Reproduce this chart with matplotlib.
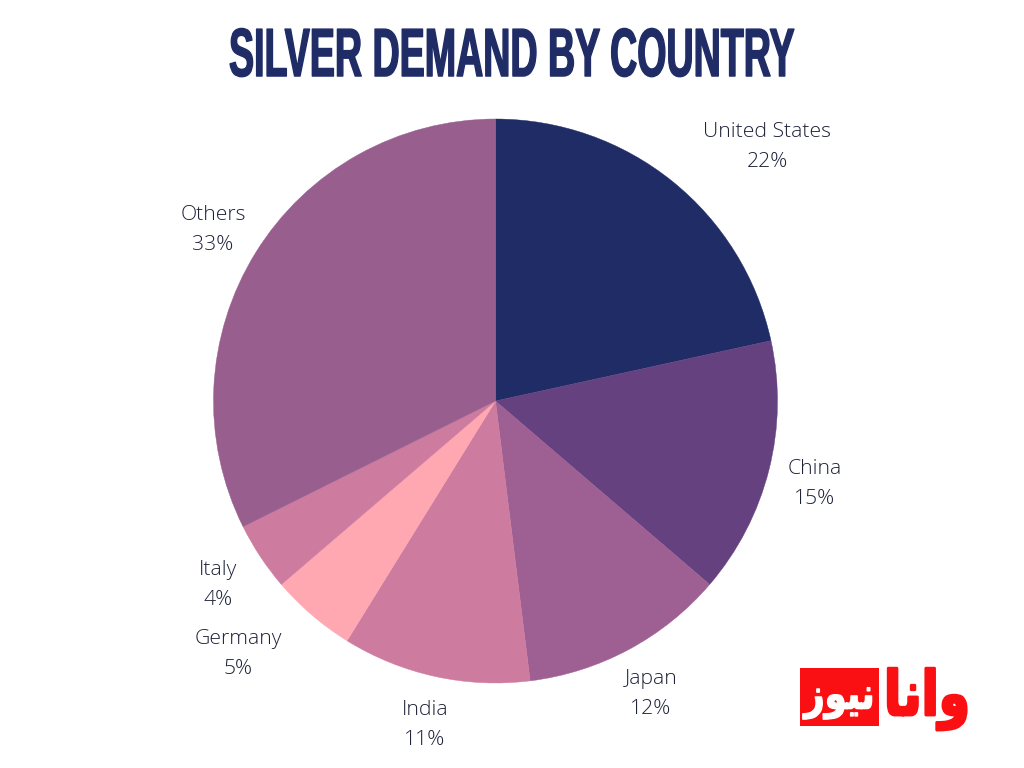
import matplotlib
matplotlib.use('Agg')
import matplotlib.pyplot as plt
from matplotlib.patheffects import AbstractPathEffect
from matplotlib.transforms import Affine2D

labels = ['United States', 'China', 'Japan', 'India', 'Germany', 'Italy', 'Others']
values = [22, 15, 12, 11, 5, 4, 33]
colors = ['#1F2C66', '#65417F', '#9E5F93', '#CE7BA0', '#FFA8B2', '#CE7BA0', '#985E8E']
label_pos = [(767, 147), (815, 484), (651, 694), (425, 725), (238, 654), (218, 585), (213, 230)]


class Squeeze(AbstractPathEffect):
    """Draw text narrower or taller about a pixel point, with a heavier outline."""
    def __init__(self, fx, fy, cx, cy, stroke, color):
        super().__init__()
        self.fx, self.fy, self.cx, self.cy = fx, fy, cx, cy
        self.stroke, self.color = stroke, color

    def draw_path(self, renderer, gc, tpath, affine, rgbFace=None):
        t = Affine2D().translate(-self.cx, -self.cy).scale(self.fx, self.fy).translate(self.cx, self.cy)
        gc0 = renderer.new_gc()
        gc0.copy_properties(gc)
        gc0.set_linewidth(self.stroke)
        gc0.set_foreground(self.color)
        renderer.draw_path(gc0, tpath, affine + t, rgbFace)
        gc0.restore()


W, H = 1024, 768
fig = plt.figure(figsize=(W/100, H/100), dpi=100, facecolor='white')
ax = fig.add_axes([0, 0, 1, 1])
ax.set_xlim(0, W)
ax.set_ylim(H, 0)
ax.axis('off')

pie_ax = fig.add_axes([(495.5-282)/W, 1-(401+282)/H, 564/W, 564/H])
wedges, _ = pie_ax.pie(values, colors=colors, startangle=90, counterclock=False, radius=1,
                       wedgeprops=dict(linewidth=0))
for w, c in zip(wedges, colors):
    w.set_edgecolor(c)
    w.set_linewidth(0.3)
pie_ax.set_xlim(-1, 1)
pie_ax.set_ylim(-1, 1)

for lab, val, (x, y) in zip(labels, values, label_pos):
    ax.text(x, y, f'{lab}\n{val}%', ha='center', va='center', fontsize=15.2,
            family='Open Sans', fontweight='light', color='#1E2238', linespacing=1.62)

title = ax.text(512, 58.5, 'SILVER DEMAND BY COUNTRY', ha='center', va='center',
                fontsize=42, family=['Liberation Sans Narrow', 'Liberation Sans'],
                fontweight='bold', color='#1F2C66')
fig.canvas.draw()
tw = title.get_window_extent().width
title.set_path_effects([Squeeze(566 / tw, 1.17, 512, H - 58.5, 1.0, '#1F2C66')])

# logo
logo_red = '#FA0F12'
ax.add_patch(plt.Rectangle((800, 668), 79, 58, facecolor=logo_red, edgecolor='none'))
logo_white = '\uFEAF\uFEEE\uFEF4\uFEE7'
logo_red_text = '\uFE8E\uFEE7\uFE8D\uFEED'
wt = ax.text(839.5, 699, logo_white, ha='center', va='center', fontsize=26,
             family='DejaVu Sans', fontweight='bold', color='white')
wt.set_path_effects([Squeeze(0.98, 1.2, 839.5, H - 699, 1.0, 'white')])
rt = ax.text(927, 699, logo_red_text, ha='center', va='center', fontsize=37,
             family='DejaVu Sans', fontweight='bold', color=logo_red)
fig.canvas.draw()
rw = rt.get_window_extent().width
rt.set_path_effects([Squeeze(86 / rw, 1.2, 927, H - 699, 2.0, logo_red)])

fig.savefig('out.png', dpi=100)
